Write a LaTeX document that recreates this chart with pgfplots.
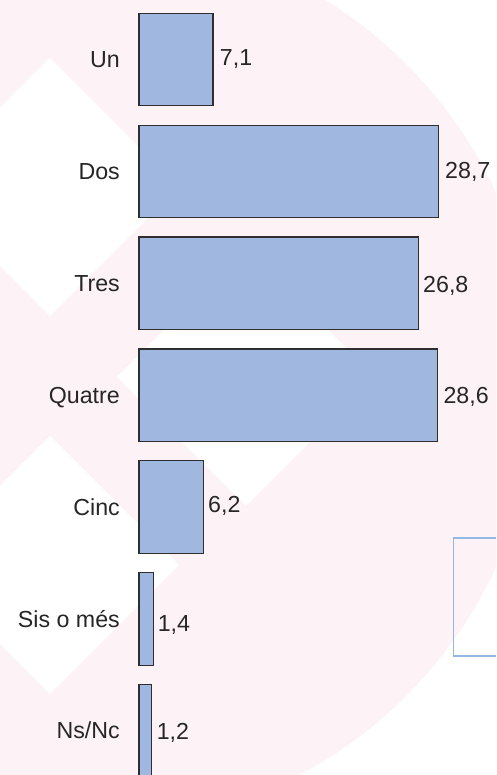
\documentclass[border=0pt]{standalone}
\usepackage{fontspec}
\setmainfont{Liberation Sans}
\usepackage{pgfplots}
\usepackage{pgfplotstable}
\pgfplotsset{compat=1.18}
\definecolor{barfill}{HTML}{A0B8E0}
\definecolor{baredge}{HTML}{2E2E2E}
\definecolor{wm}{HTML}{FDF3F6}
\definecolor{boxblue}{HTML}{94B8E6}
\pgfplotstableread{
x y lab
7.74 0.058 7,1
29.34 1.059 28,7
27.23 2.078 26,8
29.18 3.070 28,6
6.62 4.044 6,2
1.78 5.116 1,4
1.69 6.081 1,2
}\labels
\begin{document}
\begin{tikzpicture}[x=1pt,y=1pt,font=\fontsize{23.2}{27}\selectfont]
\useasboundingbox (0,0) rectangle (496,775);
\clip (0,0) rectangle (496,775);
\fill[white] (0,0) rectangle (496,775);
% background watermark
\fill[wm] (90,395) circle (447);
\fill[white] (50,717) -- (179,588) -- (50,459) -- (-79,588) -- cycle;
\fill[white] (246,527) -- (375,398) -- (246,269) -- (117,398) -- cycle;
\fill[white] (50,339) -- (179,210) -- (50,81) -- (-79,210) -- cycle;
\draw[boxblue, line width=1.5] (453.5,237) rectangle (530,119);
\begin{axis}[
  at={(139pt,0pt)}, anchor=south west,
  scale only axis, width=357pt, height=775pt,
  xmin=0, xmax=34.23,
  ymin=-0.5317, ymax=6.394, y dir=reverse,
  axis line style={draw=none},
  xtick=\empty,
  ytick={0,1,2,3,4,5,6},
  yticklabels={Un,Dos,Tres,Quatre,Cinc,Sis o més,Ns/Nc},
  major tick length=0pt,
  tick style={draw=none},
  yticklabel style={anchor=base east, inner sep=0pt, xshift=-19pt, yshift=-8pt, font=\fontsize{23.2}{27}\selectfont, text=black!85},
  clip=false,
]
\addplot[xbar, bar width=92.5pt, fill=barfill, draw=baredge, line width=1.2pt]
  coordinates {(7.1,0) (28.7,1) (26.8,2) (28.6,3) (6.2,4) (1.4,5) (1.2,6)};
\addplot[draw=none, mark=none, nodes near coords, point meta=explicit symbolic,
  every node near coord/.append style={anchor=base west, inner sep=0pt, font=\fontsize{23.2}{27}\selectfont, text=black!85}]
  table[x=x, y=y, meta=lab] {\labels};
\end{axis}
\end{tikzpicture}
\end{document}
